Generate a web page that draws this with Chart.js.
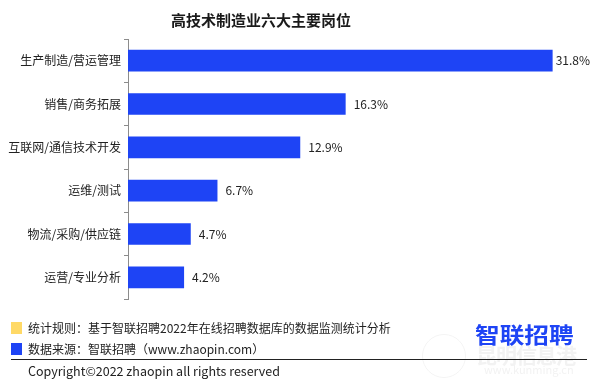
<!DOCTYPE html>
<html><head><meta charset="utf-8">
<script src="https://cdn.jsdelivr.net/npm/chart.js@4.4.1/dist/chart.umd.min.js"></script>
<style>
html,body{margin:0;padding:0;background:#fff;}
#wrap{position:relative;width:597px;height:389px;overflow:hidden;font-family:"Noto Sans CJK SC","Noto Sans",sans-serif;}
canvas{position:absolute;left:0;top:0;}
.abs{position:absolute;white-space:nowrap;}
#title{left:0;width:522px;top:8px;text-align:center;font-size:15px;font-weight:bold;color:#1a1a1a;line-height:24px;}
.note{left:28px;font-size:12px;color:#222;line-height:16px;}
.sq{width:11px;height:12px;left:11px;}
#line{left:11px;top:359px;width:576px;height:1px;background:#222;}
#copy{left:28px;top:362px;font-size:12.5px;color:#222;line-height:18px;}
#logo{left:475px;top:320px;font-size:22px;font-weight:bold;color:#1e44f5;line-height:26px;transform:scaleX(1.12);transform-origin:left top;}
#wm1{left:476px;top:343px;font-size:21px;font-weight:bold;color:#f2f2f2;line-height:22px;letter-spacing:-1px;}
#wm2{left:484px;top:362px;font-size:11px;color:#f2f2f2;line-height:14px;}
#wmc{left:422px;top:334px;width:42px;height:42px;border-radius:50%;border:1px solid #f4f4f4;}
</style></head>
<body>
<div id="wrap">
<canvas id="c" width="597" height="389"></canvas>
<div class="abs" id="title">高技术制造业六大主要岗位</div>
<div class="abs sq" style="top:322px;background:#ffd966;"></div>
<div class="abs note" style="top:320px;">统计规则：基于智联招聘2022年在线招聘数据库的数据监测统计分析</div>
<div class="abs sq" style="top:343px;background:#1e44f5;"></div>
<div class="abs note" style="top:341px;">数据来源：智联招聘（www.zhaopin.com）</div>
<div class="abs" id="wmc"></div>
<div class="abs" id="wm1">昆明信息港</div>
<div class="abs" id="wm2">www.kunming.cn</div>
<div class="abs" id="line"></div>
<div class="abs" id="copy">Copyright©2022 zhaopin all rights reserved</div>
<div class="abs" id="logo">智联招聘</div>
</div>
<script>
const categories = ["生产制造/营运管理","销售/商务拓展","互联网/通信技术开发","运维/测试","物流/采购/供应链","运营/专业分析"];
const values = [31.8, 16.3, 12.9, 6.7, 4.7, 4.2];
const valueLabels = ["31.8%","16.3%","12.9%","6.7%","4.7%","4.2%"];

const labelPlugin = {
  id: 'barLabels',
  afterDatasetsDraw(chart) {
    const ctx = chart.ctx;
    const meta = chart.getDatasetMeta(0);
    ctx.save();
    ctx.font = '12px "Noto Sans CJK SC", "Noto Sans", sans-serif';
    ctx.fillStyle = '#222';
    ctx.textBaseline = 'middle';
    ctx.textAlign = 'left';
    meta.data.forEach((bar, i) => {
      const t = valueLabels[i];
      const w = ctx.measureText(t).width;
      let x = bar.x + 8;
      if (x + w > chart.width - 7) x = chart.width - 7 - w;
      ctx.fillText(t, x, bar.y);
    });
    ctx.restore();
  }
};

new Chart(document.getElementById('c'), {
  type: 'bar',
  data: {
    labels: categories,
    datasets: [{
      data: values,
      backgroundColor: '#1e44f5',
      borderWidth: 0,
      categoryPercentage: 1.0,
      barPercentage: 0.5
    }]
  },
  options: {
    indexAxis: 'y',
    responsive: false,
    animation: false,
    devicePixelRatio: 1,
    layout: { padding: { left: 0, right: 15, top: 39, bottom: 90 } },
    plugins: { legend: { display: false }, tooltip: { enabled: false }, title: { display: false } },
    scales: {
      x: { display: false, min: 0, max: 34 },
      y: {
        afterFit(scale) { scale.width = 128; },
        grid: { drawOnChartArea: false, drawTicks: true, tickLength: 4, color: '#8c8c8c', offset: true },
        border: { display: true, color: '#8c8c8c', width: 1 },
        ticks: { color: '#222', padding: 3, font: { size: 12, family: '"Noto Sans CJK SC", "Noto Sans", sans-serif' } }
      }
    }
  },
  plugins: [labelPlugin]
});
</script>
</body></html>
